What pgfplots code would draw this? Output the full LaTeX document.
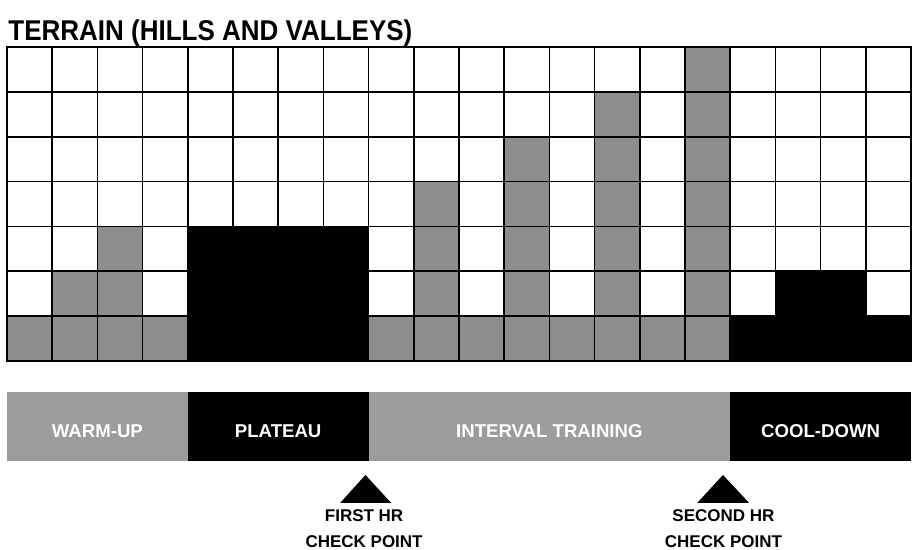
\documentclass[border=0pt]{standalone}
\usepackage{fontspec}
\setmainfont{Liberation Sans}
\usepackage{pgfplots}
\pgfplotsset{compat=1.18}
\definecolor{barGray}{HTML}{8E8E8E}
\definecolor{bandGray}{HTML}{9C9C9C}
\begin{document}
\begin{tikzpicture}[x=1pt,y=1pt]
\useasboundingbox (0,0) rectangle (456,275);
% title
\node[anchor=base west, inner sep=0pt, font=\fontsize{13}{15}\selectfont\bfseries] at (4,254.8) {\scalebox{1}[1.1]{TERRAIN (HILLS AND VALLEYS)}};
% terrain grid
\begin{axis}[at={(3.5pt,94.5pt)}, anchor=south west, scale only axis,
  width=452pt, height=157pt,
  xmin=0, xmax=20, ymin=0, ymax=7,
  xtick={0,1,...,20}, ytick={0,1,...,7},
  xticklabels={}, yticklabels={},
  major tick length=0pt,
  grid=major, grid style={black, line width=0.8pt},
  axis line style={black, line width=0.9pt},
  axis on top]
% warm-up (gray)
\addplot[ybar interval, fill=barGray, draw=none] coordinates {(0,1) (1,2) (2,3) (3,1) (4,1)};
% plateau (black)
\addplot[ybar interval, fill=black, draw=none] coordinates {(4,3) (5,3) (6,3) (7,3) (8,3)};
% interval training (gray)
\addplot[ybar interval, fill=barGray, draw=none] coordinates {(8,1) (9,4) (10,1) (11,5) (12,1) (13,6) (14,1) (15,7) (16,7)};
% cool-down (black)
\addplot[ybar interval, fill=black, draw=none] coordinates {(16,1) (17,2) (18,2) (19,1) (20,1)};
\end{axis}
% phases and check points
\begin{axis}[at={(3.5pt,0pt)}, anchor=south west, scale only axis,
  width=452pt, height=94.5pt,
  xmin=0, xmax=20, ymin=0, ymax=94.5,
  hide axis, clip=false]
\addplot[fill=bandGray, draw=none] coordinates {(0,44.5) (4,44.5) (4,79) (0,79)} -- cycle;
\addplot[fill=black, draw=none] coordinates {(4,44.5) (8,44.5) (8,79) (4,79)} -- cycle;
\addplot[fill=bandGray, draw=none] coordinates {(8,44.5) (16,44.5) (16,79) (8,79)} -- cycle;
\addplot[fill=black, draw=none] coordinates {(16,44.5) (20,44.5) (20,79) (16,79)} -- cycle;
% triangles
\addplot[fill=black, draw=none] coordinates {(7.37,23.5) (7.93,37.5) (8.5,23.5)} -- cycle;
\addplot[fill=black, draw=none] coordinates {(15.27,23.5) (15.84,37.5) (16.42,23.5)} -- cycle;
\begin{scope}[every node/.style={anchor=base, inner sep=0pt, text=white, font=\fontsize{9.3}{11}\selectfont\bfseries}]
\node at (axis cs:2,56.3) {WARM-UP};
\node at (axis cs:6,56.3) {PLATEAU};
\node at (axis cs:12,56.3) {INTERVAL TRAINING};
\node at (axis cs:18,56.3) {COOL-DOWN};
\end{scope}
\node[anchor=base, inner sep=0pt, align=center, font=\fontsize{8.5}{13}\selectfont\bfseries] at (axis cs:7.9,1.2) {FIRST HR\\CHECK POINT};
\node[anchor=base, inner sep=0pt, align=center, font=\fontsize{8.5}{13}\selectfont\bfseries] at (axis cs:15.85,1.2) {SECOND HR\\CHECK POINT};
\end{axis}
\end{tikzpicture}
\end{document}
